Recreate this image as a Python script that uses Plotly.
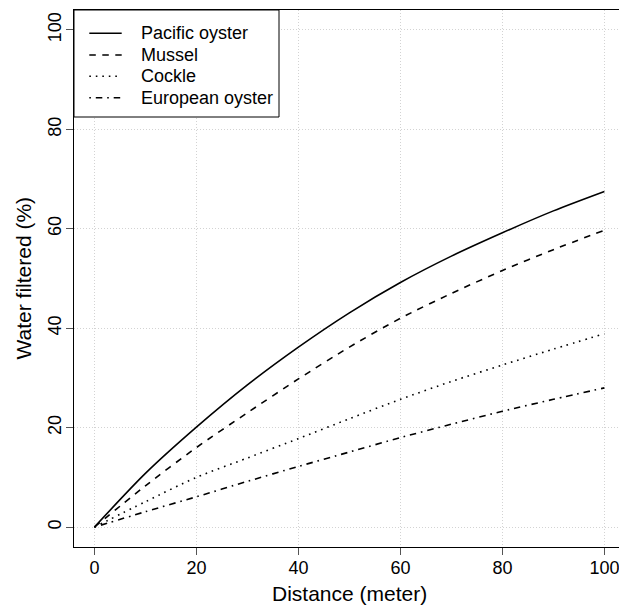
import plotly.graph_objects as go

# Share of water filtered by each bivalve species along the distance travelled
distance = [0, 10, 20, 30, 40, 50, 60, 70, 80, 90, 100]
pacific_oyster = [0, 10.8, 20.1, 28.6, 36.2, 43.1, 49.2, 54.5, 59.2, 63.6, 67.5]
mussel = [0, 8.3, 16.0, 23.0, 29.8, 36.2, 42.0, 47.0, 51.6, 55.8, 59.7]
cockle = [0, 5.1, 10.0, 13.9, 17.8, 21.8, 25.7, 29.3, 32.6, 35.8, 38.9]
european_oyster = [0, 3.1, 6.1, 9.2, 12.2, 15.1, 18.0, 20.7, 23.3, 25.7, 28.0]

series_names = ["Pacific oyster", "Mussel", "Cockle", "European oyster"]
series_values = [pacific_oyster, mussel, cockle, european_oyster]
dash_styles = ["solid", "6.5px,6.5px", "1.6px,4.9px", "1.6px,4.9px,6.5px,4.9px"]

tick_values = [0, 20, 40, 60, 80, 100]
FONT = "Arial, Liberation Sans, sans-serif"
LINE_W = 1.6

fig = go.Figure()
for name, vals, dash in zip(series_names, series_values, dash_styles):
    fig.add_trace(go.Scatter(
        x=distance, y=vals, mode="lines", name=name,
        line=dict(color="black", width=LINE_W, dash=dash, shape="spline", smoothing=0.8),
        showlegend=False,
    ))

W, H = 619, 605
ML, MR, MT, MB = 74, 0, 10, 58
pw, ph = W - ML - MR, H - MT - MB


def px_x(p):
    return (p - ML) / pw


def px_y(p):
    return (H - MB - p) / ph


# Legend box in the top-left corner of the panel
shapes = [dict(type="rect", xref="paper", yref="paper",
               x0=0, x1=px_x(279), y0=px_y(117), y1=1.0,
               fillcolor="white", line=dict(color="black", width=1), layer="above")]
annotations = []
row_y = [33.3, 55, 76.2, 97.7]
for name, dash, ry in zip(series_names, dash_styles, row_y):
    shapes.append(dict(type="line", xref="paper", yref="paper",
                       x0=px_x(89.3), x1=px_x(121.7), y0=px_y(ry), y1=px_y(ry),
                       line=dict(color="black", width=LINE_W, dash=dash), layer="above"))
    annotations.append(dict(xref="paper", yref="paper", x=px_x(139), y=px_y(ry),
                            xanchor="left", yanchor="middle", showarrow=False,
                            text=name, font=dict(family=FONT, size=18, color="black")))

# Axis titles
annotations.append(dict(xref="x", yref="paper", x=50, y=px_y(593.5),
                        xanchor="center", yanchor="middle", showarrow=False,
                        text="Distance (meter)", font=dict(family=FONT, size=21, color="black")))
annotations.append(dict(xref="paper", yref="y", x=px_x(23), y=50,
                        xanchor="center", yanchor="middle", showarrow=False, textangle=-90,
                        text="Water filtered (%)", font=dict(family=FONT, size=21, color="black")))

axis_common = dict(
    tickvals=tick_values, ticktext=[str(v) for v in tick_values],
    ticks="outside", ticklen=7, tickwidth=1, tickcolor="#555555",
    showline=True, linecolor="black", linewidth=1.3,
    showgrid=True, gridcolor="#d3d3d3", gridwidth=1, griddash="1px,2px",
    zeroline=False, autorange=False, ticklabeloverflow="allow",
    tickfont=dict(family=FONT, size=18, color="black"),
)

fig.update_layout(
    width=W, height=H,
    margin=dict(l=ML, r=MR, t=MT, b=MB),
    paper_bgcolor="white", plot_bgcolor="white",
    xaxis=dict(range=[-4, -4 + pw / 5.1], mirror=True, ticklabelstandoff=-3, **axis_common),
    yaxis=dict(range=[-4, 104], tickangle=-90, ticklabelstandoff=-2, **axis_common),
    shapes=shapes, annotations=annotations,
    showlegend=False,
)

fig.write_html("out.html")
